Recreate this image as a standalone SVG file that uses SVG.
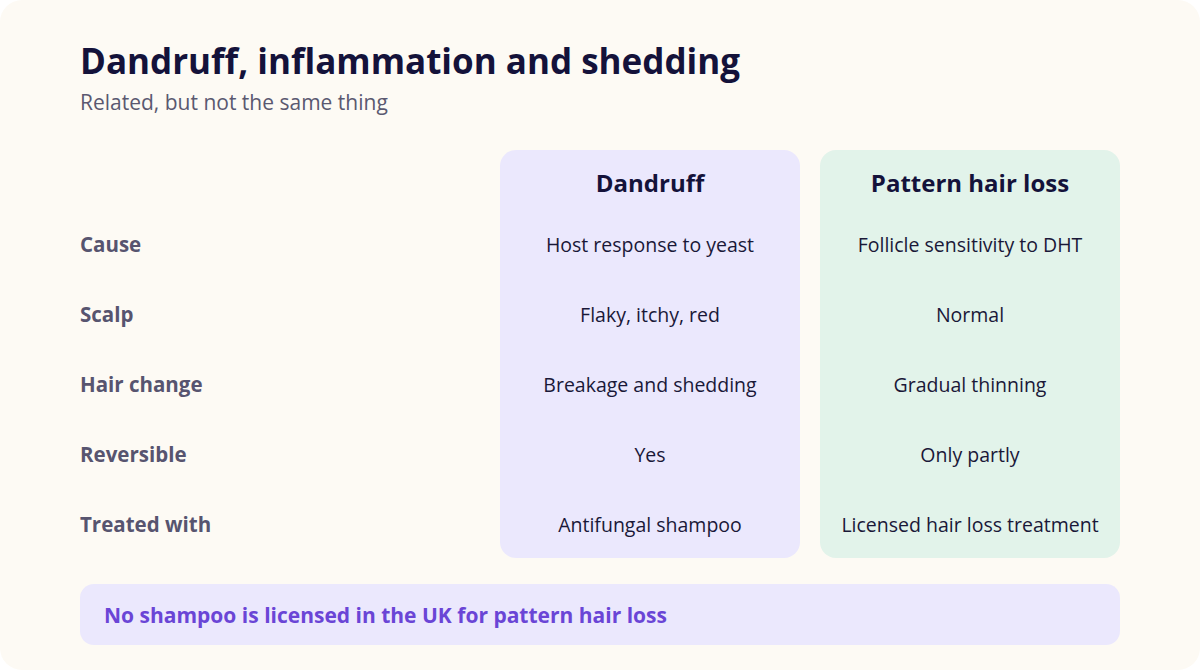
<svg xmlns="http://www.w3.org/2000/svg" width="1200" height="670" viewBox="0 0 1200 670">
<style>
text{font-family:"Open Sans","Noto Sans",sans-serif}
.lab{font-size:20.5px;font-weight:700;fill:#57546f}
.cell{font-size:19.5px;fill:#1a1838;text-anchor:middle}
.hd{font-size:24px;font-weight:700;fill:#14123a;text-anchor:middle}
</style>
<rect x="0" y="0" width="1200" height="670" rx="22" fill="#fdfaf4"/>
<text x="80" y="74" font-size="35" font-weight="700" fill="#14123a">Dandruff, inflammation and shedding</text>
<text x="80" y="110" font-size="21" fill="#5a5870">Related, but not the same thing</text>
<g id="col-dandruff">
<rect x="500" y="150" width="300" height="408" rx="16" fill="#ebe8fd"/>
<text class="hd" x="650" y="192">Dandruff</text>
<text class="cell" x="650" y="252">Host response to yeast</text>
<text class="cell" x="650" y="322">Flaky, itchy, red</text>
<text class="cell" x="650" y="392">Breakage and shedding</text>
<text class="cell" x="650" y="462">Yes</text>
<text class="cell" x="650" y="532">Antifungal shampoo</text>
</g>
<g id="col-pattern">
<rect x="820" y="150" width="300" height="408" rx="16" fill="#e2f3ea"/>
<text class="hd" x="970" y="192">Pattern hair loss</text>
<text class="cell" x="970" y="252">Follicle sensitivity to DHT</text>
<text class="cell" x="970" y="322">Normal</text>
<text class="cell" x="970" y="392">Gradual thinning</text>
<text class="cell" x="970" y="462">Only partly</text>
<text class="cell" x="970" y="532">Licensed hair loss treatment</text>
</g>
<g id="row-labels">
<text class="lab" x="80" y="252">Cause</text>
<text class="lab" x="80" y="322">Scalp</text>
<text class="lab" x="80" y="392">Hair change</text>
<text class="lab" x="80" y="462">Reversible</text>
<text class="lab" x="80" y="532">Treated with</text>
</g>
<g id="note">
<rect x="80" y="584" width="1040" height="61" rx="14" fill="#ebe8fd"/>
<text x="104" y="623" font-size="21" font-weight="700" fill="#6a45d6">No shampoo is licensed in the UK for pattern hair loss</text>
</g>
<g id="connectors"/>
</svg>
